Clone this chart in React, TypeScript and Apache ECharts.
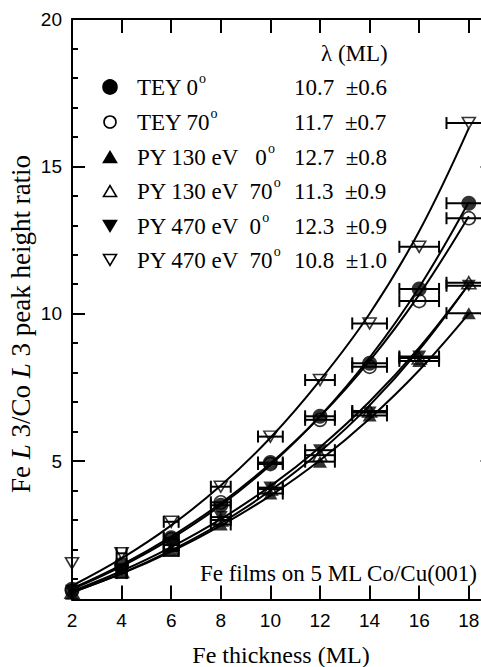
import React, { useEffect, useRef } from "react";
import * as echarts from "echarts";

// ---------- data ----------
const thickness = [2, 4, 6, 8, 10, 12, 14, 16, 18];
const thicknessErr = [0, 0.2, 0.3, 0.4, 0.5, 0.6, 0.7, 0.8, 0.9];

const tey0 = [0.65, 1.45, 2.4, 3.5, 4.95, 6.52, 8.32, 10.84, 13.75];
const tey70 = [0.6, 1.5, 2.35, 3.6, 4.9, 6.4, 8.2, 10.43, 13.24];
const py130_0 = [0.5, 1.2, 1.95, 2.85, 3.9, 4.98, 6.55, 8.4, 10.02];
const py130_70 = [0.55, 1.25, 2.0, 3.0, 4.05, 5.2, 6.7, 8.5, 11.05];
const py470_0 = [0.6, 1.3, 2.15, 3.1, 4.1, 5.37, 6.65, 8.55, 10.95];
const py470_70 = [1.53, 1.87, 2.94, 4.13, 5.83, 7.75, 9.67, 12.27, 16.47];

// fitted curves, read at the same thicknesses
const fitTey0 = [0.65, 1.43, 2.37, 3.5, 4.87, 6.52, 8.51, 10.9, 13.79];
const fitTey70 = [0.68, 1.48, 2.44, 3.57, 4.92, 6.51, 8.4, 10.65, 13.31];
const fitPy130_0 = [0.55, 1.18, 1.93, 2.81, 3.83, 5.03, 6.44, 8.08, 10.0];
const fitPy130_70 = [0.54, 1.19, 1.97, 2.89, 4.0, 5.32, 6.89, 8.77, 11.0];
const fitPy470_0 = [0.58, 1.27, 2.08, 3.03, 4.15, 5.47, 7.02, 8.85, 11.0];
const fitPy470_70 = [0.77, 1.7, 2.82, 4.17, 5.79, 7.74, 10.0, 12.8, 16.3];

const legendLabels = [
  "TEY 0",
  "TEY 70",
  "PY 130 eV   0",
  "PY 130 eV  70",
  "PY 470 eV  0",
  "PY 470 eV  70",
];
const lambdaValues = ["10.7", "11.7", "12.7", "11.3", "12.3", "10.8"];
const lambdaErrors = ["0.6", "0.7", "0.8", "0.9", "0.9", "1.0"];

const xTickValues = [2, 4, 6, 8, 10, 12, 14, 16, 18];
const yMajorTicks = [5, 10, 15, 20];
const yMinorTicks = [1, 2, 3, 4, 6, 7, 8, 9, 11, 12, 13, 14, 16, 17, 18, 19];

// ---------- styles ----------
const SERIF = "Liberation Serif";
const SANS = "Liberation Sans";

type Marker = { symbol: string; size: number | number[]; rotate: number; filled: boolean };
const markers: Marker[] = [
  { symbol: "circle", size: 15, rotate: 0, filled: true },
  { symbol: "circle", size: 13, rotate: 0, filled: false },
  { symbol: "triangle", size: [14, 12], rotate: 0, filled: true },
  { symbol: "triangle", size: [14, 12], rotate: 0, filled: false },
  { symbol: "triangle", size: [14, 12], rotate: 180, filled: true },
  { symbol: "triangle", size: [13, 11], rotate: 180, filled: false },
];
const pointSets = [tey0, tey70, py130_0, py130_70, py470_0, py470_70];
const fitSets = [fitTey0, fitTey70, fitPy130_0, fitPy130_70, fitPy470_0, fitPy470_70];

export default function App() {
  const ref = useRef<HTMLDivElement>(null);

  useEffect(() => {
    if (!ref.current) return;
    const chart = echarts.init(ref.current, null, { renderer: "svg" });

    const axisLineStyle = { show: true, lineStyle: { color: "#000", width: 2 } };
    const tickStyle = { color: "#000", width: 2 };

    const xAxisBase = (pos: "bottom" | "top", showLabel: boolean) => ({
      type: "value",
      min: 2,
      max: 19,
      position: pos,
      axisLine: axisLineStyle,
      axisTick: { show: true, inside: true, length: 14, lineStyle: tickStyle, customValues: xTickValues },
      axisLabel: {
        show: showLabel,
        customValues: xTickValues,
        color: "#000",
        fontFamily: SANS,
        fontSize: 19,
        margin: 11,
      },
      splitLine: { show: false },
    });

    const yAxisBase = (pos: "left" | "right", major: boolean, showLabel: boolean) => ({
      type: "value",
      min: 0.3,
      max: 20,
      position: pos,
      axisLine: major ? axisLineStyle : { show: false },
      axisTick: {
        show: true,
        inside: true,
        length: major ? 13 : 6,
        lineStyle: tickStyle,
        customValues: major ? yMajorTicks : yMinorTicks,
      },
      axisLabel: {
        show: showLabel,
        customValues: yMajorTicks,
        color: "#000",
        fontFamily: SANS,
        fontSize: 19,
        margin: 10,
      },
      splitLine: { show: false },
    });

    const series: any[] = [];
    fitSets.forEach((fit, k) => {
      series.push({
        type: "line",
        name: "fit" + k,
        data: thickness.map((x, i) => [x, fit[i]]),
        smooth: 0.4,
        symbol: "none",
        showSymbol: false,
        lineStyle: { color: "#000", width: 2 },
        z: 2,
        silent: true,
      });
    });

    const errData: number[][] = [];
    pointSets.forEach((pts) => {
      thickness.forEach((x, i) => errData.push([x, pts[i], thicknessErr[i]]));
    });
    series.push({
      type: "custom",
      name: "err",
      data: errData,
      encode: { x: 0, y: 1 },
      clip: false,
      z: 3,
      silent: true,
      renderItem: (_params: any, api: any) => {
        const x = api.value(0);
        const y = api.value(1);
        const e = api.value(2);
        if (!e) return { type: "group", children: [] };
        const p1 = api.coord([x - e, y]);
        const p2 = api.coord([x + e, y]);
        const cap = 6;
        const st = { stroke: "#000", lineWidth: 2 };
        return {
          type: "group",
          children: [
            { type: "line", shape: { x1: p1[0], y1: p1[1], x2: p2[0], y2: p2[1] }, style: st },
            { type: "line", shape: { x1: p1[0], y1: p1[1] - cap, x2: p1[0], y2: p1[1] + cap }, style: st },
            { type: "line", shape: { x1: p2[0], y1: p2[1] - cap, x2: p2[0], y2: p2[1] + cap }, style: st },
          ],
        };
      },
    });

    pointSets.forEach((pts, k) => {
      const m = markers[k];
      series.push({
        type: "scatter",
        name: legendLabels[k],
        data: thickness.map((x, i) => [x, pts[i]]),
        symbol: m.symbol,
        symbolSize: m.size,
        symbolRotate: m.rotate,
        clip: false,
        z: 5,
        itemStyle: m.filled
          ? { color: "#000" }
          : { color: "rgba(0,0,0,0)", borderColor: "#000", borderWidth: 1.6 },
        silent: true,
      });
    });

    // legend graphics
    const rowY = [87, 122, 157, 191, 226, 260];
    const symX = 110;
    const legendSym = (k: number, y: number) => {
      const m = markers[k];
      const fill = m.filled ? "#000" : "none";
      const stroke = "#000";
      if (m.symbol === "circle") {
        return {
          type: "circle",
          shape: { cx: symX, cy: y, r: m.filled ? 7 : 6 },
          style: { fill, stroke, lineWidth: 1.6 },
        };
      }
      const hw = 6.5;
      const hh = 5.5;
      const pts =
        m.rotate === 0
          ? [[symX - hw, y + hh], [symX + hw, y + hh], [symX, y - hh]]
          : [[symX - hw, y - hh], [symX + hw, y - hh], [symX, y + hh]];
      return { type: "polygon", shape: { points: pts }, style: { fill, stroke, lineWidth: 1.6 } };
    };

    const serifText = { fontFamily: SERIF, fontSize: 23, fill: "#000" };
    const supRich = {
      s: { fontFamily: SERIF, fontSize: 14, verticalAlign: "top", lineHeight: 32, fill: "#000" },
    };

    const graphics: any[] = [];
    graphics.push({
      type: "text",
      x: 321,
      y: 53,
      style: { ...serifText, text: "λ (ML)", align: "left", verticalAlign: "middle" },
    });
    legendLabels.forEach((lab, k) => {
      const y = rowY[k];
      graphics.push(legendSym(k, y));
      graphics.push({
        type: "text",
        x: 137,
        y,
        style: {
          ...serifText,
          text: lab + "{s|o}",
          rich: supRich,
          lineHeight: 26,
          align: "left",
          verticalAlign: "middle",
        },
      });
      graphics.push({
        type: "text",
        x: 294,
        y,
        style: { ...serifText, text: lambdaValues[k] + "  ±" + lambdaErrors[k], align: "left", verticalAlign: "middle" },
      });
    });
    graphics.push({
      type: "text",
      x: 477,
      y: 573,
      style: { ...serifText, text: "Fe films on 5 ML Co/Cu(001)", align: "right", verticalAlign: "middle" },
    });
    graphics.push({
      type: "text",
      x: 281,
      y: 655,
      style: { ...serifText, fontSize: 24, text: "Fe thickness (ML)", align: "center", verticalAlign: "middle" },
    });
    graphics.push({
      type: "text",
      x: 21,
      y: 324,
      rotation: Math.PI / 2,
      style: {
        fontFamily: SERIF,
        fontSize: 27,
        fill: "#000",
        text: "Fe {i|L} 3/Co {i|L} 3 peak height ratio",
        rich: { i: { fontFamily: SERIF, fontSize: 27, fontStyle: "italic", fill: "#000" } },
        align: "center",
        verticalAlign: "middle",
      },
    });

    chart.setOption({
      animation: false,
      backgroundColor: "#fff",
      grid: { left: 72, top: 19, width: 421.6, height: 580.6, containLabel: false },
      xAxis: [xAxisBase("bottom", true), xAxisBase("top", false)],
      yAxis: [
        yAxisBase("left", true, true),
        yAxisBase("left", false, false),
        yAxisBase("right", true, false),
        yAxisBase("right", false, false),
      ],
      series,
      graphic: graphics,
    });

    return () => chart.dispose();
  }, []);

  return (
    <div
      style={{
        position: "fixed",
        left: 0,
        top: 0,
        width: 481,
        height: 667,
        overflow: "hidden",
        background: "#fff",
      }}
    >
      <div ref={ref} style={{ width: 500, height: 667 }} />
    </div>
  );
}
